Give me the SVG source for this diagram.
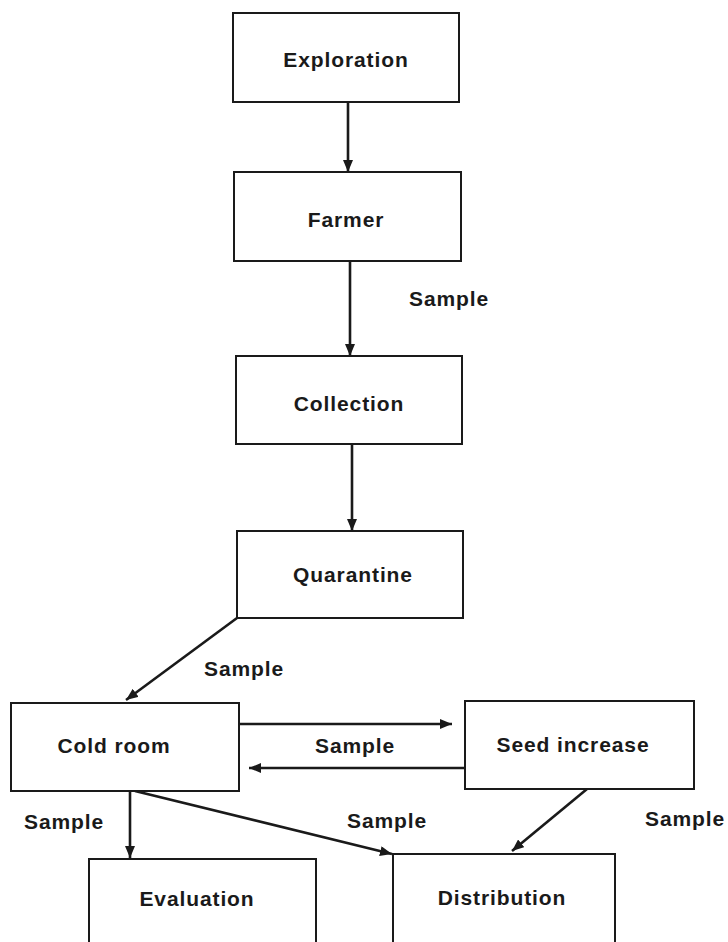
<svg xmlns="http://www.w3.org/2000/svg" width="728" height="942" viewBox="0 0 728 942">
  <style>
    .box { fill: #ffffff; stroke: #1a1a1a; stroke-width: 2; }
    .lbl { font-family: "Liberation Sans", Arial, sans-serif; font-weight: bold; font-size: 21px; letter-spacing: 0.9px; fill: #1a1a1a; }
    .mid { text-anchor: middle; }
    .edge { stroke: #1a1a1a; stroke-width: 2.6; fill: none; marker-end: url(#arrow); }
  </style>
  <defs>
    <marker id="arrow" markerUnits="userSpaceOnUse" viewBox="0 0 12 10" refX="12" refY="5" markerWidth="12" markerHeight="10" orient="auto">
      <path d="M0,0 L12,5 L0,10 z" fill="#1a1a1a"/>
    </marker>
  </defs>
  <rect width="728" height="942" fill="#ffffff"/>

  <!-- connectors -->
  <g id="connectors">
    <line class="edge" x1="348" y1="102" x2="348" y2="172"/>
    <line class="edge" x1="350" y1="261" x2="350" y2="356"/>
    <line class="edge" x1="352" y1="444" x2="352" y2="531"/>
    <line class="edge" x1="237" y1="618" x2="126" y2="700"/>
    <line class="edge" x1="239" y1="724" x2="452" y2="724"/>
    <line class="edge" x1="465" y1="768" x2="249" y2="768"/>
    <line class="edge" x1="130" y1="791" x2="130" y2="858"/>
    <line class="edge" x1="135" y1="791" x2="392" y2="854"/>
    <line class="edge" x1="587" y1="789" x2="512" y2="851"/>
  </g>

  <!-- connector labels -->
  <g id="edge-labels">
    <text class="lbl" x="409" y="306">Sample</text>
    <text class="lbl" x="204" y="676">Sample</text>
    <text class="lbl" x="315" y="753">Sample</text>
    <text class="lbl" x="24" y="829">Sample</text>
    <text class="lbl" x="347" y="828">Sample</text>
    <text class="lbl" x="645" y="826">Sample</text>
  </g>

  <g id="exploration">
    <rect class="box" x="233" y="13" width="226" height="89"/>
    <text class="lbl mid" x="346" y="67">Exploration</text>
  </g>
  <g id="farmer">
    <rect class="box" x="234" y="172" width="227" height="89"/>
    <text class="lbl mid" x="346" y="227">Farmer</text>
  </g>
  <g id="collection">
    <rect class="box" x="236" y="356" width="226" height="88"/>
    <text class="lbl mid" x="349" y="411">Collection</text>
  </g>
  <g id="quarantine">
    <rect class="box" x="237" y="531" width="226" height="87"/>
    <text class="lbl mid" x="353" y="582">Quarantine</text>
  </g>
  <g id="cold-room">
    <rect class="box" x="11" y="703" width="228" height="88"/>
    <text class="lbl mid" x="114" y="753">Cold room</text>
  </g>
  <g id="seed-increase">
    <rect class="box" x="465" y="701" width="229" height="88"/>
    <text class="lbl mid" x="573" y="752">Seed increase</text>
  </g>
  <g id="evaluation">
    <rect class="box" x="89" y="859" width="227" height="100"/>
    <text class="lbl mid" x="197" y="906">Evaluation</text>
  </g>
  <g id="distribution">
    <rect class="box" x="393" y="854" width="222" height="100"/>
    <text class="lbl mid" x="502" y="905">Distribution</text>
  </g>
</svg>
